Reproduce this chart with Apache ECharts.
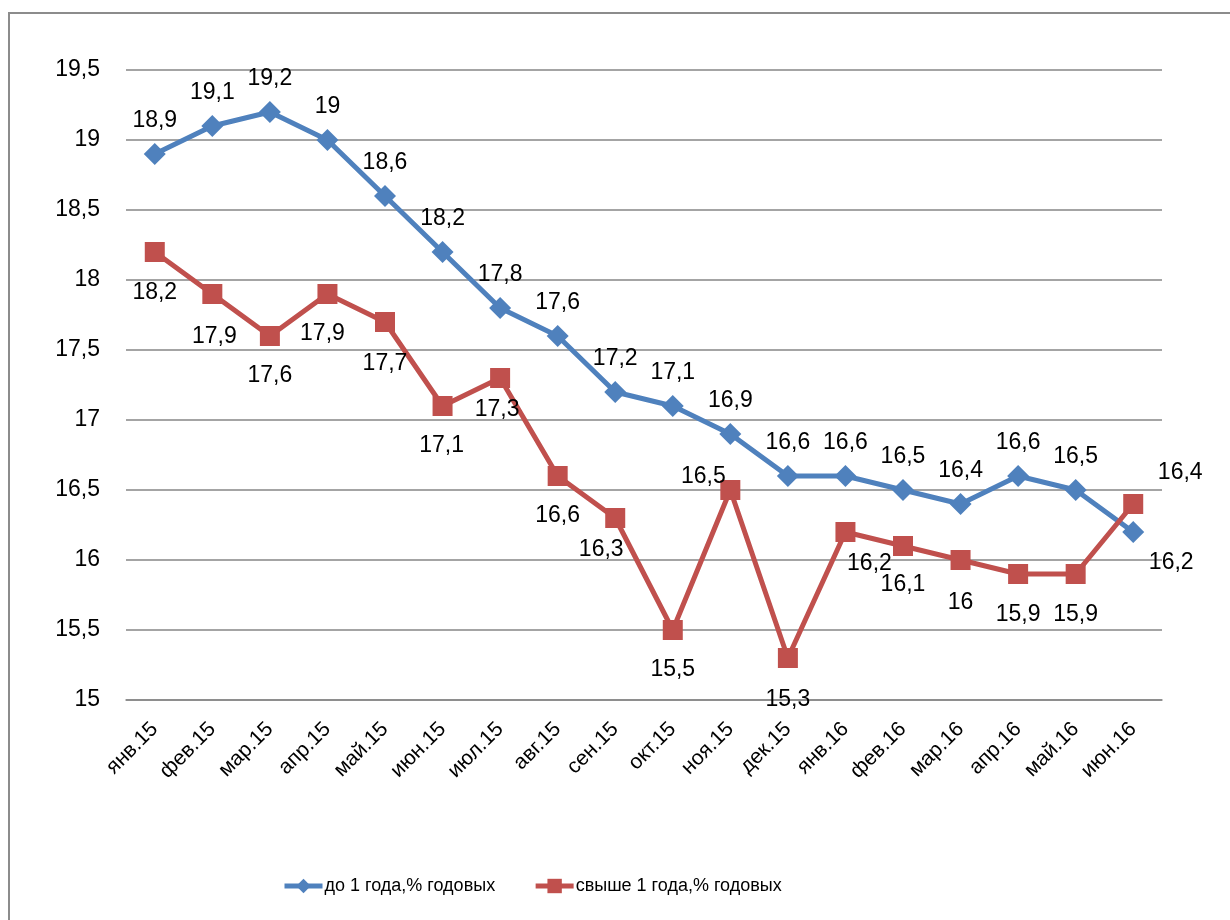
<!DOCTYPE html>
<html>
<head>
<meta charset="utf-8">
<script src="https://cdn.jsdelivr.net/npm/echarts@6/dist/echarts.min.js"></script>
<style>html,body{margin:0;padding:0;background:#fff}</style>
</head>
<body>
<div id="main" style="width:1230px;height:920px;"></div>
<script type="text/javascript">
    // данные
    var months = ['янв.15', 'фев.15', 'мар.15', 'апр.15', 'май.15', 'июн.15', 'июл.15', 'авг.15', 'сен.15',
        'окт.15', 'ноя.15', 'дек.15', 'янв.16', 'фев.16', 'мар.16', 'апр.16', 'май.16', 'июн.16'];
    var shortTerm = [18.9, 19.1, 19.2, 19, 18.6, 18.2, 17.8, 17.6, 17.2, 17.1, 16.9, 16.6, 16.6, 16.5, 16.4, 16.6, 16.5, 16.2];
    var longTerm = [18.2, 17.9, 17.6, 17.9, 17.7, 17.1, 17.3, 16.6, 16.3, 15.5, 16.5, 15.3, 16.2, 16.1, 16, 15.9, 15.9, 16.4];
    var seriesNames = ['до 1 года,% годовых', 'свыше 1 года,% годовых'];

    // смещения подписей (как в исходной картинке)
    var shortOffsets = months.map(function (m, i) { return i === 17 ? [38, 31] : [0, -33]; });
    var longOffsets = [[0, 41], [2, 43], [0, 40], [-5, 40], [0, 42], [-1, 40], [-3, 32], [0, 40], [-14, 32],
        [0, 40], [-27, -13], [0, 42], [24, 32], [0, 39], [0, 43], [0, 41], [0, 41], [47, -31]];

    function comma(v) { return String(v).replace('.', ','); }

    function buildData(values, offsets) {
        return values.map(function (v, i) {
            return { value: v, label: { offset: offsets[i] } };
        });
    }

    var font = 'Liberation Sans, Arial, sans-serif';
    var myChart = echarts.init(document.getElementById('main'));

    var option = {
        animation: false,
        textStyle: { fontFamily: font },
        graphic: [{
            type: 'rect',
            shape: { x: 9, y: 13, width: 1240, height: 940 },
            style: { fill: 'none', stroke: '#8c8c8c', lineWidth: 2 }
        }],
        grid: { left: 126, right: 68, top: 70, bottom: 220 },
        legend: {
            top: 872,
            left: 277,
            itemWidth: 38,
            itemHeight: 18,
            itemGap: 38,
            lineStyle: { width: 5 },
            textStyle: { fontSize: 18, color: '#000', fontFamily: font, padding: [0, 0, 0, -3] },
            data: seriesNames
        },
        xAxis: {
            type: 'category',
            data: months,
            boundaryGap: true,
            axisLine: { lineStyle: { color: '#868686', width: 1.5 } },
            axisTick: { show: false },
            axisLabel: { rotate: 45, fontSize: 21, color: '#000', margin: 26, interval: 0 }
        },
        yAxis: {
            type: 'value',
            min: 15,
            max: 19.5,
            interval: 0.5,
            axisLine: { show: false },
            axisTick: { show: false },
            splitLine: { lineStyle: { color: '#868686', width: 1.5 } },
            axisLabel: { fontSize: 23, color: '#000', margin: 26, formatter: comma }
        },
        series: [{
            name: seriesNames[0],
            type: 'line',
            data: buildData(shortTerm, shortOffsets),
            symbol: 'diamond',
            symbolSize: 22,
            itemStyle: { color: '#4F81BD' },
            lineStyle: { color: '#4F81BD', width: 5 },
            label: {
                show: true, position: 'inside', fontSize: 23, color: '#000',
                formatter: function (p) { return comma(p.value); }
            }
        }, {
            name: seriesNames[1],
            type: 'line',
            data: buildData(longTerm, longOffsets),
            symbol: 'rect',
            symbolSize: 20,
            itemStyle: { color: '#C0504D' },
            lineStyle: { color: '#C0504D', width: 5 },
            label: {
                show: true, position: 'inside', fontSize: 23, color: '#000',
                formatter: function (p) { return comma(p.value); }
            }
        }]
    };

    myChart.setOption(option);
</script>
</body>
</html>
